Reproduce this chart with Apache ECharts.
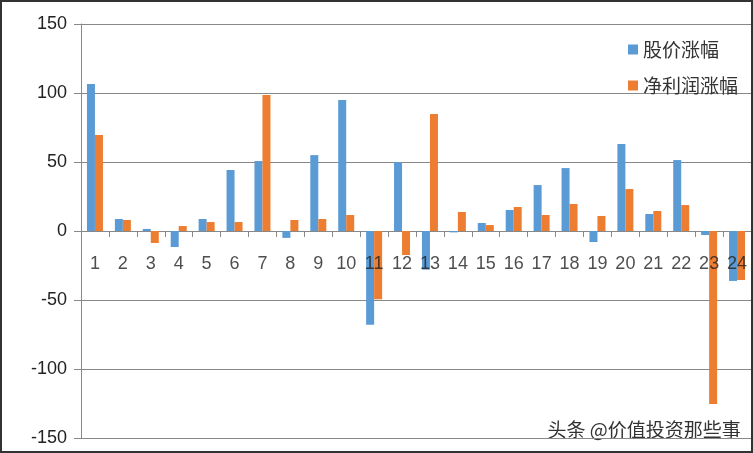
<!DOCTYPE html>
<html><head><meta charset="utf-8">
<script src="https://cdn.jsdelivr.net/npm/echarts@6/dist/echarts.min.js"></script>
<style>
html,body{margin:0;padding:0;background:#fff;}
#c{width:753px;height:453px;box-sizing:border-box;border:2px solid #333;}
</style></head>
<body><div id="c"></div>
<script>
var categories = ['1','2','3','4','5','6','7','8','9','10','11','12','13','14','15','16','17','18','19','20','21','22','23','24'];
var stockRise = [106.5, 8.7, 1.5, -11.6, 8.7, 44.2, 50.7, -5, 55, 95, -68, 49.8, -28, -1, 5.8, 15.2, 33.3, 45.6, -8, 63, 12.3, 51.4, -2.9, -36.2];
var profitRise = [69.6, 8, -8.7, 3.6, 6.5, 6.5, 98.6, 8, 8.7, 11.6, -49.5, -17.4, 84.8, 13.8, 4.3, 17.4, 11.6, 19.6, 10.9, 30.4, 14.5, 18.8, -125.4, -35.5];
var seriesNames = ['股价涨幅', '净利润涨幅'];
var watermark = '头条 @价值投资那些事';

var chart = echarts.init(document.getElementById('c'));
var font = '"Noto Sans CJK SC", "Liberation Sans", sans-serif';
var labelData = categories.map(function (c) { return [c, 0]; });
chart.setOption({
  animation: false,
  textStyle: {fontFamily: font},
  grid: {left: 79, right: 0, top: 22, bottom: 13, containLabel: false, outerBoundsMode: 'none'},
  legend: {
    orient: 'vertical', left: 621, top: 33,
    itemWidth: 10, itemHeight: 10, itemGap: 17,
    icon: 'rect',
    textStyle: {fontSize: 19, color: '#333', fontFamily: font},
    data: seriesNames
  },
  xAxis: {
    type: 'category', data: categories,
    axisLine: {onZero: true, lineStyle: {color: '#888', width: 1}},
    axisTick: {show: true, length: 6, lineStyle: {color: '#888'}},
    axisLabel: {show: false},
    splitLine: {show: false}
  },
  yAxis: {
    type: 'value', min: -150, max: 150, interval: 50,
    axisLine: {show: true, lineStyle: {color: '#888'}},
    axisTick: {show: true, length: 7, lineStyle: {color: '#888'}},
    axisLabel: {fontSize: 18, color: '#222', margin: 14, fontFamily: '"Liberation Sans", sans-serif'},
    splitLine: {show: true, lineStyle: {color: '#888', width: 1}}
  },
  series: [
    {name: seriesNames[0], type: 'bar', data: stockRise, barWidth: 8, barGap: '0%', itemStyle: {color: '#5B9BD5'}},
    {name: seriesNames[1], type: 'bar', data: profitRise, barWidth: 8, barGap: '0%', itemStyle: {color: '#ED7D31'}},
    {name: 'xlabels', type: 'scatter', data: labelData, symbolSize: 0, silent: true, z: 5,
      label: {show: true, position: 'bottom', distance: 24, fontSize: 18, color: '#222',
        fontFamily: '"Liberation Sans", sans-serif',
        formatter: function (p) { return p.value[0]; }}}
  ],
  graphic: [{
    type: 'text', left: 544, top: 417,
    style: {text: watermark, fontSize: 19, fill: '#333', fontFamily: font,
      stroke: '#fff', lineWidth: 3}
  }]
});
</script></body></html>
